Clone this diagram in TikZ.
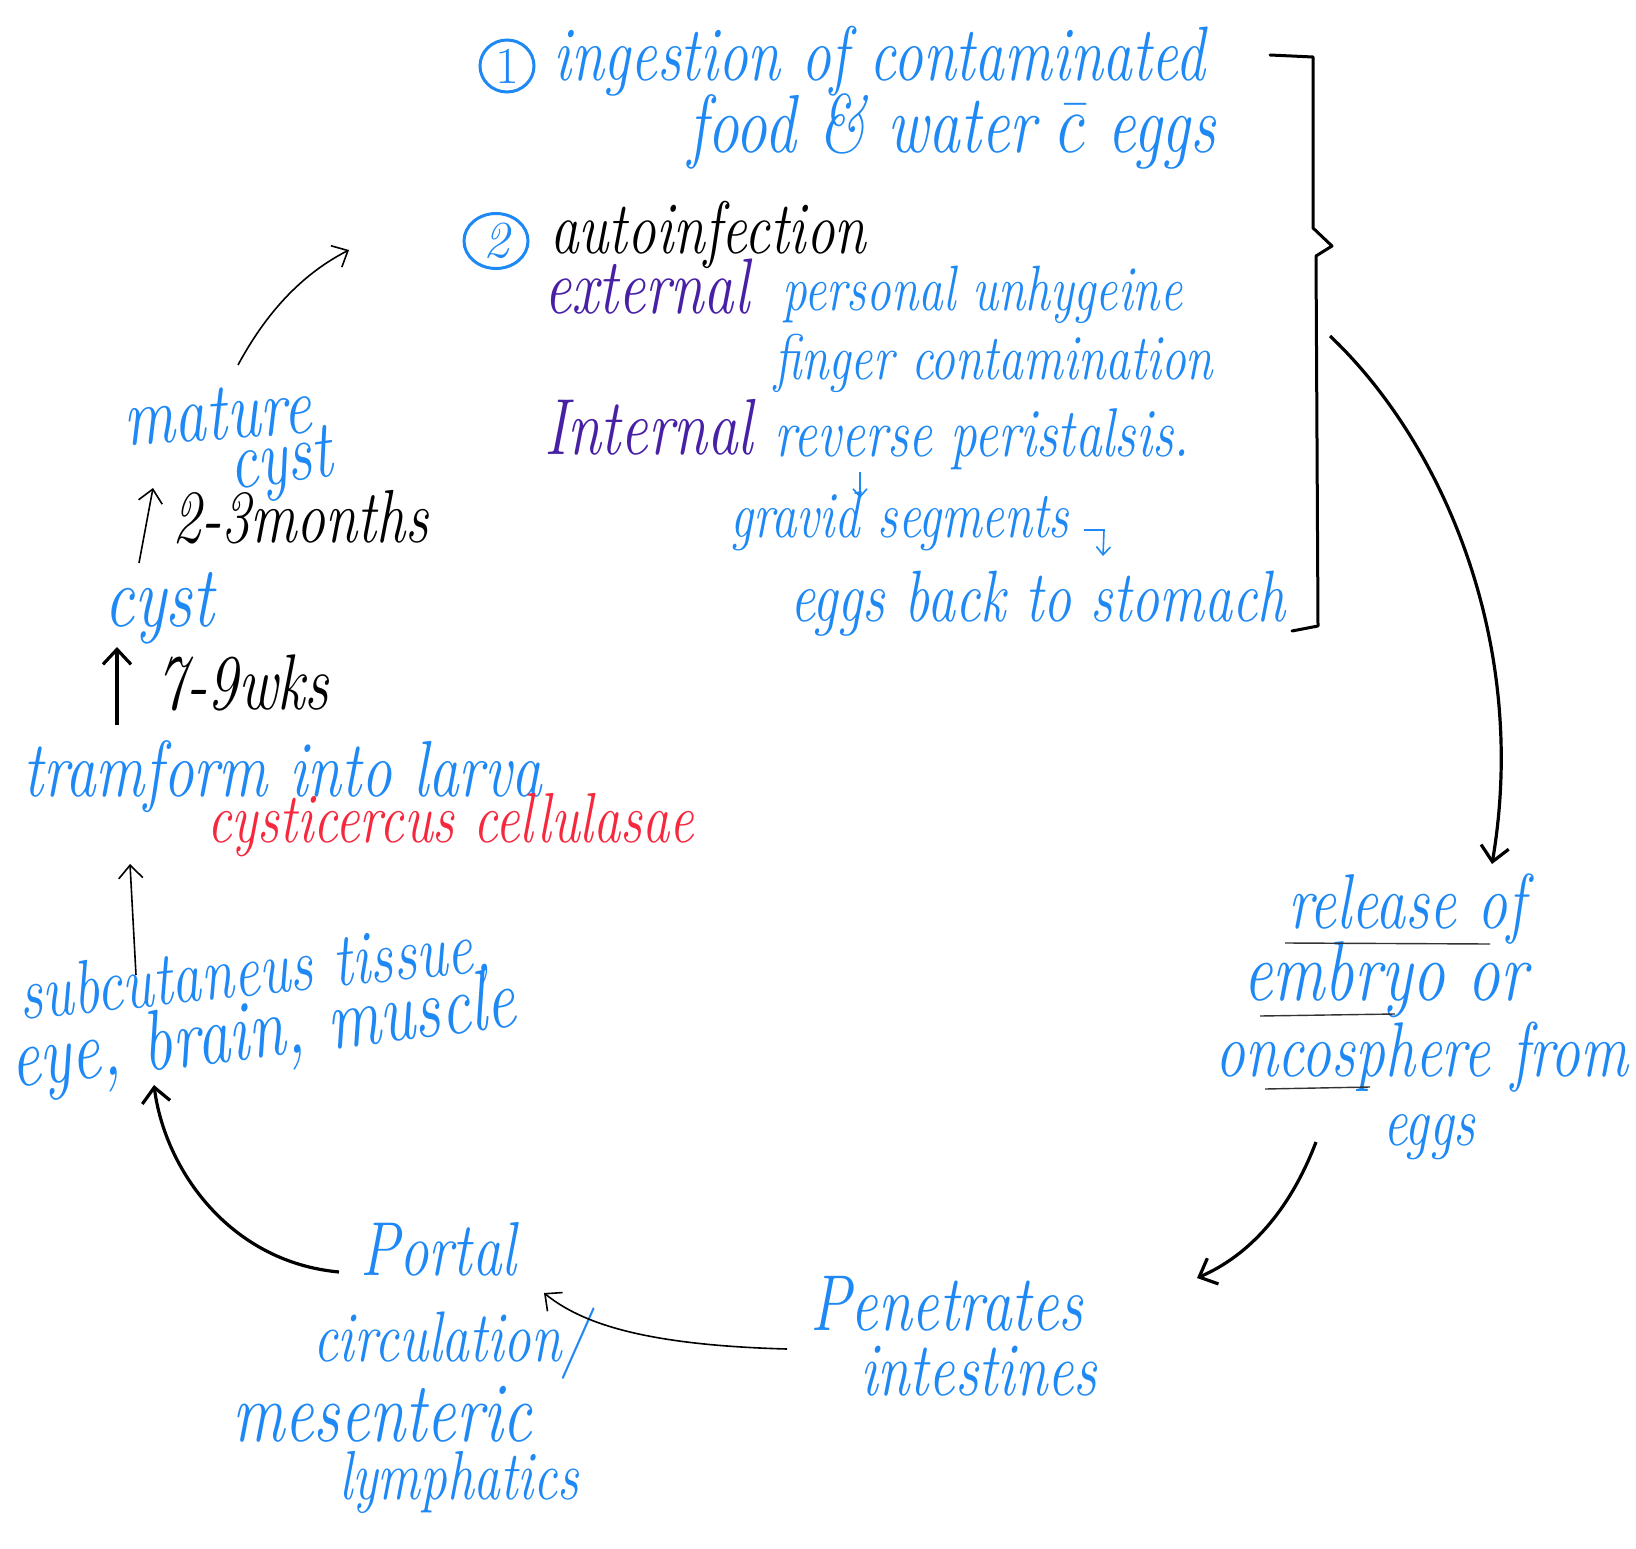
\documentclass[tikz,border=0pt]{standalone}
\usepackage{graphicx}
\usetikzlibrary{arrows.meta,shapes.geometric}
\definecolor{hblue}{RGB}{30,136,245}
\definecolor{hpurple}{RGB}{72,32,165}
\definecolor{hred}{RGB}{245,40,62}
\newcommand{\hw}[2]{\scalebox{1}[1.3]{\resizebox{#1pt}{!}{\fontsize{20}{24}\selectfont\itshape #2}}}
\begin{document}
\begin{tikzpicture}[x=1pt,y=-1pt,
  txt/.style={inner sep=0pt, anchor=base west, text=hblue},
  blk/.style={txt, text=black},
  pur/.style={txt, text=hpurple},
  redt/.style={txt, text=hred},
  num/.style={ellipse, draw=hblue, line width=3pt, inner sep=0pt, text=hblue,
              font=\fontsize{52}{56}\selectfont},
  thinarr/.style={-{Straight Barb[length=13pt,width=24pt]}, line width=1.6pt, black},
  thickarr/.style={-{Straight Barb[length=15pt,width=28pt]}, line width=3.2pt, black},
  smallarr/.style={-{Straight Barb[length=8pt,width=14pt]}, line width=1.6pt, hblue},
  uline/.style={line width=1.4pt, black!80},
  bracestyle/.style={line width=3pt, black, line join=round, line cap=round}]
\fill[white] (0,0) rectangle (1636,1549);
\useasboundingbox (0,0) rectangle (1636,1549);

% --- route 1 and 2 ---
\node[num, minimum width=54pt, minimum height=52pt] (n1) at (507,66) {1};
\node[txt] (t1) at (553,81) {\hw{652}{ingestion of contaminated}};
\node[txt] (t2) at (688,153) {\hw{527}{food \& water \(\bar{c}\) eggs}};
\node[num, minimum width=64pt, minimum height=55pt] (n2) at (496,241) {\itshape 2};
\node[blk] (t3) at (550,253) {\hw{316}{autoinfection}};
\node[pur] (t4) at (544,313) {\hw{205}{external}};
\node[txt] (t5) at (782,310) {\hw{400}{personal unhygeine}};
\node[txt] (t6) at (774,379) {\hw{439}{finger contamination}};
\node[pur] (t7) at (544,454) {\hw{209}{Internal}};
\node[txt] (t8) at (774,456) {\hw{415}{reverse peristalsis.}};
\node[txt] (t9) at (730,537) {\hw{339}{gravid segments}};
\node[txt] (t10) at (790,621) {\hw{495}{eggs back to stomach}};

% brace
\draw[bracestyle] (1270,55) -- (1313,57) -- (1313,228) -- (1332,246) -- (1316,256) -- (1318,626) -- (1292,631);

% small arrows inside the list
\coordinate (s1a) at (860,472);
\coordinate (s1b) at (860,498);
\draw[smallarr] (s1a) -- (s1b);
\coordinate (s2a) at (1084,530);
\coordinate (s2m) at (1104,530);
\coordinate (s2b) at (1103,556);
\draw[smallarr] (s2a) -- (s2m) -- (s2b);

% --- release ---
\node[txt] (t11) at (1288,928) {\hw{237}{release of}};
\node[txt] (t12) at (1243,1000) {\hw{284}{embryo or}};
\node[txt] (t13) at (1215,1076) {\hw{413}{oncosphere from}};
\node[txt] (t14) at (1383,1145) {\hw{92}{eggs}};
\coordinate (u1a) at (1285,943); \coordinate (u1b) at (1490,944);
\coordinate (u2a) at (1260,1016); \coordinate (u2b) at (1395,1014);
\coordinate (u3a) at (1265,1089); \coordinate (u3b) at (1370,1087);
\draw[uline] (u1a) -- (u1b);
\draw[uline] (u2a) -- (u2b);
\draw[uline] (u3a) -- (u3b);

% --- penetrates ---
\node[txt] (t15) at (810,1330) {\hw{273}{Penetrates}};
\node[txt] (t16) at (860,1395) {\hw{237}{intestines}};

% --- portal ---
\node[txt] (t17) at (360,1275) {\hw{156}{Portal}};
\node[txt] (t18) at (313,1361) {\hw{276}{circulation/}};
\node[txt] (t19) at (232,1441) {\hw{300}{mesenteric}};
\node[txt] (t20) at (339,1499) {\hw{240}{lymphatics}};

% --- tissues ---
\node[txt, rotate=6] (t21) at (21,1020) {\hw{474}{subcutaneus tissue,}};
\node[txt, rotate=7] (t22) at (13,1088) {\hw{509}{eye, brain, muscle}};

% --- larva ---
\node[txt] (t23) at (23,796) {\hw{519}{tramform into larva}};
\node[redt] (t24) at (207,842) {\hw{487}{cysticercus cellulasae}};
\node[blk] (t25) at (156,709) {\hw{173}{7-9wks}};
\node[txt] (t26) at (104,626) {\hw{110}{cyst}};
\node[blk] (t27) at (172,542) {\hw{256}{2-3months}};
\node[txt, rotate=4] (t28) at (125,446) {\hw{188}{mature}};
\node[txt, rotate=8] (t29) at (232,490) {\hw{104}{cyst}};

% --- cycle connectors ---
\coordinate (a1s) at (1330,336);
\coordinate (a1e) at (1492,864);
\draw[thickarr] (a1s) .. controls (1440,440) and (1530,640) .. (a1e);

\coordinate (a2s) at (1316,1142);
\coordinate (a2e) at (1197,1278);
\draw[thickarr] (a2s) .. controls (1290,1210) and (1250,1255) .. (a2e);

\coordinate (a3s) at (787,1349);
\coordinate (a3e) at (544,1293);
\draw[thinarr] (a3s) .. controls (640,1345) and (580,1322) .. (a3e);

\coordinate (a4s) at (339,1272);
\coordinate (a4e) at (154,1085);
\draw[thickarr] (a4s) .. controls (230,1262) and (165,1170) .. (a4e);

\coordinate (a5s) at (136,975);
\coordinate (a5e) at (130,864);
\draw[thinarr] (a5s) -- (a5e);

\coordinate (a6s) at (117,725);
\coordinate (a6e) at (117,647);
\draw[thickarr] (a6s) -- (a6e);

\coordinate (a7s) at (139,563);
\coordinate (a7e) at (153,488);
\draw[thinarr] (a7s) -- (a7e);

\coordinate (a8s) at (238,365);
\coordinate (a8e) at (349,250);
\draw[thinarr] (a8s) .. controls (265,315) and (300,275) .. (a8e);
\end{tikzpicture}
\end{document}
